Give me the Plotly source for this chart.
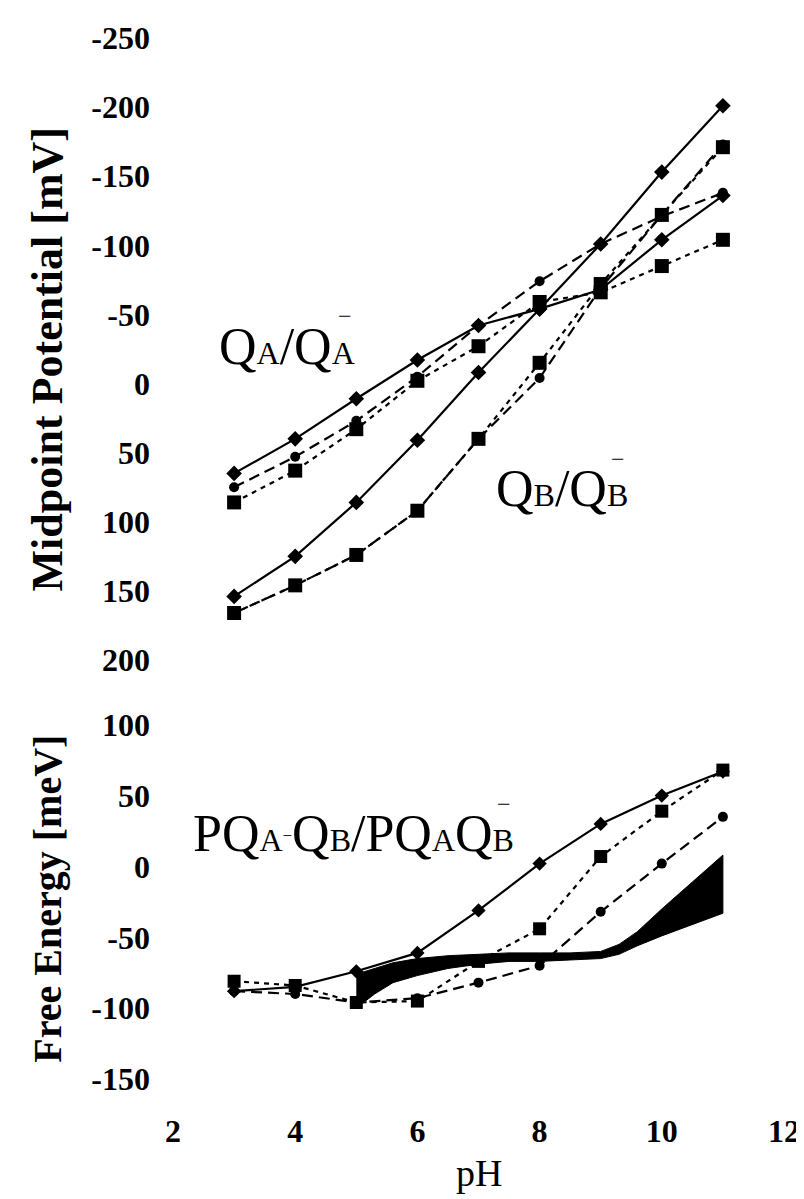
import plotly.graph_objects as go

pH = [3, 4, 5, 6, 7, 8, 9, 10, 11]

# Top panel: midpoint potentials (mV, axis reversed)
qa_solid = [65, 40, 11, -17, -42, -54, -68, -104, -136]
qa_dash = [75, 53, 27, -5, -42, -74, -101, -121, -138]
qa_dot = [86, 63, 33, -2, -27, -59, -66, -85, -104]
qb_solid = [154, 125, 86, 41, -8, -54, -101, -153, -201]
qb_dash = [166, 146, 124, 92, 40, -4, -69, -122, -173]
qb_dot = [166, 146, 124, 92, 40, -15, -72, -122, -171]

# Bottom panel: free energy (meV)
dg_solid = [-88, -85, -74, -61, -31, 2, 30, 50, 67]
dg_dot = [-81, -84, -96, -95, -67, -44, 7, 39, 68]
dg_dash = [-88, -90, -96, -93, -82, -70, -32, 2, 35]

band_pH = [5, 5.3, 5.6, 6, 6.5, 7, 7.5, 8, 8.5, 9, 9.3, 9.6, 10, 10.5, 11]
band_upper = [-76, -72, -68, -65, -63, -62, -61, -61, -61, -60, -55, -46, -30, -11, 8]
band_lower = [-100, -90, -82, -77, -72, -69, -67, -67, -66, -65, -62, -56, -49, -41, -33]

top_ticks = [-250, -200, -150, -100, -50, 0, 50, 100, 150, 200]
bot_ticks = [-150, -100, -50, 0, 50, 100]
x_ticks = [2, 4, 6, 8, 10, 12]

SERIF = "Liberation Serif"
BLACK = "black"

fig = go.Figure()

def line(x, y, dash, symbol, size, xa, ya):
    fig.add_trace(go.Scatter(
        x=x, y=y, mode="lines+markers", xaxis=xa, yaxis=ya,
        line=dict(color=BLACK, width=2.2, dash=dash),
        marker=dict(symbol=symbol, size=size, color=BLACK),
        showlegend=False, hoverinfo="skip"))

DASH = "11px,6px"
DOT = "5px,5px"

# top panel
line(pH, qa_dot, DOT, "square", 14, "x", "y")
line(pH, qb_dot, DOT, "square", 14, "x", "y")
line(pH, qa_dash, DASH, "circle", 10, "x", "y")
line(pH, qb_dash, DASH, "circle", 10, "x", "y")
line(pH, qa_solid, "solid", "diamond", 12, "x", "y")
line(pH, qb_solid, "solid", "diamond", 12, "x", "y")

# bottom panel
line(pH, dg_dot, DOT, "square", 13, "x2", "y2")
fig.add_trace(go.Scatter(
    x=band_pH + band_pH[::-1], y=band_upper + band_lower[::-1],
    mode="lines", fill="toself", fillcolor=BLACK,
    line=dict(color=BLACK, width=1), xaxis="x2", yaxis="y2",
    showlegend=False, hoverinfo="skip"))
line(pH, dg_dash, DASH, "circle", 10, "x2", "y2")
line(pH, dg_solid, "solid", "diamond", 11, "x2", "y2")

tickfont = dict(family=SERIF, size=32, color=BLACK)

axis_common = dict(showgrid=False, zeroline=False, showline=False, ticks="")

fig.update_layout(
    width=804, height=1199,
    paper_bgcolor="white", plot_bgcolor="white",
    margin=dict(l=165, r=14, t=25, b=128),
    xaxis=dict(domain=[0, 1], range=[2, 12], anchor="y", showticklabels=False, **axis_common),
    xaxis2=dict(domain=[0, 1], range=[2, 12], anchor="y2", tickvals=x_ticks,
                ticktext=[f"<b>{v}</b>" for v in x_ticks], tickfont=tickfont,
                ticklabelstandoff=30, ticklabeloverflow="allow", **axis_common),
    yaxis=dict(domain=[0.4025, 1], range=[200, -250], anchor="x", tickvals=top_ticks,
               ticktext=[f"<b>{v}</b>" for v in top_ticks], tickfont=tickfont,
               ticklabelstandoff=22, ticklabeloverflow="allow", **axis_common),
    yaxis2=dict(domain=[0, 0.3403], range=[-150, 100], anchor="x2", tickvals=bot_ticks,
                ticktext=[f"<b>{v}</b>" for v in bot_ticks], tickfont=tickfont,
                ticklabelstandoff=22, ticklabeloverflow="allow", **axis_common),
)

label_font = dict(family=SERIF, size=52, color=BLACK)
bar_font = dict(family=SERIF, size=24, color=BLACK)
small = "font-size:32px"

annotations = [
    dict(text="<b>Midpoint Potential [mV]</b>", xref="paper", yref="paper",
         x=-0.205, y=0.691, textangle=-90, showarrow=False,
         font=dict(family=SERIF, size=44, color=BLACK),
         xanchor="center", yanchor="middle"),
    dict(text="<b>Free Energy [meV]</b>", xref="paper", yref="paper",
         x=-0.205, y=0.173, textangle=-90, showarrow=False,
         font=dict(family=SERIF, size=40, color=BLACK),
         xanchor="center", yanchor="middle"),
    dict(text="pH", xref="paper", yref="paper", x=0.5, y=-0.09,
         showarrow=False, font=dict(family=SERIF, size=38, color=BLACK),
         xanchor="center", yanchor="middle"),
    dict(text=f"Q<span style='{small}'>A</span>/Q<span style='{small}'>A</span>",
         xref="x", yref="y", x=2.72, y=-27, showarrow=False, font=label_font,
         xanchor="left", yanchor="middle"),
    dict(text="−", xref="x", yref="y", x=2.72, y=-27, xshift=128, yshift=30,
         showarrow=False, font=bar_font, xanchor="center", yanchor="middle"),
    dict(text=f"Q<span style='{small}'>B</span>/Q<span style='{small}'>B</span>",
         xref="x", yref="y", x=7.25, y=76, showarrow=False, font=label_font,
         xanchor="left", yanchor="middle"),
    dict(text="−", xref="x", yref="y", x=7.25, y=76, xshift=124, yshift=30,
         showarrow=False, font=bar_font, xanchor="center", yanchor="middle"),
    dict(text=(f"PQ<span style='{small}'>A</span><span style='font-size:24px'><sup>−</sup></span>"
               f"Q<span style='{small}'>B</span>/PQ<span style='{small}'>A</span>"
               f"Q<span style='{small}'>B</span>"),
         xref="x2", yref="y2", x=2.3, y=23, showarrow=False, font=label_font,
         xanchor="left", yanchor="middle"),
    dict(text="−", xref="x2", yref="y2", x=2.3, y=23, xshift=313, yshift=30,
         showarrow=False, font=bar_font, xanchor="center", yanchor="middle"),
]
fig.update_layout(annotations=annotations)

fig.write_html("out.html")
